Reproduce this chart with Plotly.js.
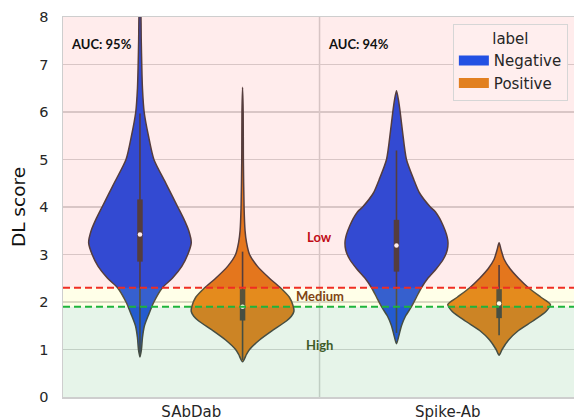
<!DOCTYPE html>
<html>
<head>
<meta charset="utf-8">
<script src="https://cdn.plot.ly/plotly-3.0.1.min.js"></script>
<style>html,body{margin:0;padding:0;background:#fff;overflow:hidden}#chart{width:574px;height:420px}</style>
</head>
<body>
<div id="chart"></div>
<script>
// ---- data ----
const categories = ['SAbDab', 'Spike-Ab'];
const labels = ['Negative', 'Positive'];
const aucTexts = ['AUC: 95%', 'AUC: 94%'];

// violin density profiles (score levels and relative half-width)
const sabdabNegY = [0.84, 1.0, 1.25, 1.5, 1.75, 2.0, 2.3, 2.5, 2.75, 3.0, 3.25, 3.5, 3.75, 4.0, 4.25, 4.5, 5.0, 5.5, 6.0, 6.5, 7.0, 7.5, 8.0, 8.4];
const sabdabNegD = [0, 1.5, 2.5, 4.5, 9, 14, 22.5, 32.5, 42, 48, 51.5, 49, 44, 38, 32, 26, 14, 8.5, 4.2, 2.5, 1.8, 1.3, 1.0, 0];
const sabdabPosY = [0.74, 0.9, 1.0, 1.2, 1.4, 1.6, 1.7, 1.8, 1.9, 2.1, 2.3, 2.5, 2.75, 3.0, 3.25, 3.5, 4.0, 5.0, 6.0, 6.52];
const sabdabPosD = [0, 4, 7, 17, 30, 44, 49, 51.5, 51, 47, 38, 27, 15, 7, 4, 2.5, 1.5, 0.8, 0.6, 0];
const spikeNegY = [1.12, 1.3, 1.5, 1.7, 1.9, 2.1, 2.3, 2.5, 2.7, 2.9, 3.1, 3.3, 3.6, 3.9, 4.0, 4.3, 4.57, 5.0, 5.6, 6.0, 6.25, 6.45];
const spikeNegD = [0, 2.5, 5, 9, 15, 20, 25, 31.5, 40, 47, 51, 51.5, 47, 39, 34, 23, 17.5, 10, 6, 3.7, 2, 0];
const spikePosY = [0.88, 1.0, 1.2, 1.4, 1.6, 1.8, 1.95, 2.1, 2.3, 2.5, 2.7, 2.9, 3.1, 3.25];
const spikePosD = [0, 3, 9.5, 19.5, 34, 47, 51.5, 42, 29.5, 19.5, 11, 5, 2, 0];

// inner box statistics, per category
const negQ1 = [2.85, 2.64];
const negMedian = [3.42, 3.19];
const negQ3 = [4.16, 3.73];
const negWhiskerLo = [0.87, 1.35];
const negWhiskerHi = [5.97, 5.19];
const posQ1 = [1.61, 1.66];
const posMedian = [1.90, 1.97];
const posQ3 = [2.27, 2.27];
const posWhiskerLo = [0.78, 1.30];
const posWhiskerHi = [3.06, 2.78];

// confidence thresholds
const thresholdLow = 2.3;
const thresholdHigh = 1.9;
const zoneNames = ['Low', 'Medium', 'High'];
const zoneLabelY = [3.37, 2.13, 1.09];

// ---- styles ----
const blue = 'rgb(35,81,227)';
const orange = 'rgb(226,128,32)';
const edge = 'rgb(72,66,66)';
const dodge = 0.2;
const halfWidth = 0.2;
const FONT = 'DejaVu Sans, sans-serif';

const profiles = [
  {cat: 0, lab: 0, y: sabdabNegY, d: sabdabNegD},
  {cat: 0, lab: 1, y: sabdabPosY, d: sabdabPosD},
  {cat: 1, lab: 0, y: spikeNegY, d: spikeNegD},
  {cat: 1, lab: 1, y: spikePosY, d: spikePosD},
];
const dmax = Math.max(...profiles.map(p => Math.max(...p.d)));

const traces = [];
profiles.forEach(p => {
  const c = p.cat + (p.lab === 0 ? -dodge : dodge);
  const xs = [], ys = [];
  for (let i = 0; i < p.y.length; i++) { xs.push(c + halfWidth * p.d[i] / dmax); ys.push(p.y[i]); }
  for (let i = p.y.length - 2; i >= 0; i--) { xs.push(c - halfWidth * p.d[i] / dmax); ys.push(p.y[i]); }
  traces.push({
    type: 'scatter', mode: 'lines', x: xs, y: ys, fill: 'toself',
    fillcolor: p.lab === 0 ? blue : orange,
    line: {color: edge, width: 1.5, shape: 'spline', smoothing: 0.7},
    showlegend: false, hoverinfo: 'skip'
  });
});

// inner boxes
[[negQ1, negMedian, negQ3, negWhiskerLo, negWhiskerHi, -dodge],
 [posQ1, posMedian, posQ3, posWhiskerLo, posWhiskerHi, dodge]].forEach(s => {
  const [q1, med, q3, lo, hi, off] = s;
  categories.forEach((cat, i) => {
    const c = i + off;
    traces.push({type: 'scatter', mode: 'lines', x: [c, c], y: [lo[i], hi[i]],
      line: {color: edge, width: 1.6}, showlegend: false, hoverinfo: 'skip'});
    traces.push({type: 'scatter', mode: 'lines', x: [c, c], y: [q1[i], q3[i]],
      line: {color: edge, width: 5.5}, showlegend: false, hoverinfo: 'skip'});
    traces.push({type: 'scatter', mode: 'markers', x: [c], y: [med[i]],
      marker: {color: 'white', size: 4.5, line: {width: 0}}, showlegend: false, hoverinfo: 'skip'});
  });
});

// legend entries
labels.forEach((lab, k) => {
  traces.push({type: 'scatter', mode: 'lines', x: [null], y: [null], name: lab,
    line: {color: k === 0 ? blue : orange, width: 12},
    showlegend: true, hoverinfo: 'skip'});
});

const shapes = [
  {type: 'line', layer: 'below', xref: 'x', yref: 'y', x0: 0.5, x1: 0.5, y0: 0, y1: 8,
   line: {color: 'rgb(212,212,212)', width: 1.5}},
  {type: 'rect', layer: 'above', xref: 'paper', yref: 'y', x0: 0, x1: 1, y0: thresholdLow, y1: 8,
   fillcolor: 'rgba(255,0,0,0.075)', line: {width: 0}},
  {type: 'rect', layer: 'above', xref: 'paper', yref: 'y', x0: 0, x1: 1, y0: thresholdHigh, y1: thresholdLow,
   fillcolor: 'rgba(255,255,0,0.09)', line: {width: 0}},
  {type: 'rect', layer: 'above', xref: 'paper', yref: 'y', x0: 0, x1: 1, y0: 0, y1: thresholdHigh,
   fillcolor: 'rgba(46,163,72,0.12)', line: {width: 0}},
  {type: 'line', layer: 'above', xref: 'paper', yref: 'y', x0: 0, x1: 1, y0: thresholdLow, y1: thresholdLow,
   line: {color: 'rgb(240,45,35)', width: 2, dash: '7px,4px'}},
  {type: 'line', layer: 'above', xref: 'paper', yref: 'y', x0: 0, x1: 1, y0: thresholdHigh, y1: thresholdHigh,
   line: {color: 'rgb(30,180,60)', width: 2, dash: '7px,4px'}},
];

const zoneColors = ['rgb(192,12,22)', 'rgb(128,68,18)', 'rgb(62,92,40)'];
const annotations = [];
aucTexts.forEach((t, i) => {
  annotations.push({xref: 'x', yref: 'y', x: i - 0.475, y: 7.43, xanchor: 'left', yanchor: 'middle',
    text: '<b>' + t + '</b>', showarrow: false, font: {family: 'Lato, sans-serif', size: 13, color: '#111'}});
});
zoneNames.forEach((z, i) => {
  annotations.push({xref: 'x', yref: 'y', x: 0.5, y: zoneLabelY[i], xanchor: 'center', yanchor: 'middle',
    text: '<b>' + z + '</b>', showarrow: false, font: {family: 'Lato, sans-serif', size: 13, color: zoneColors[i]}});
});

const layout = {
  width: 574, height: 420,
  margin: {l: 63, r: 0, t: 17, b: 23, pad: 0},
  paper_bgcolor: 'white', plot_bgcolor: 'white',
  font: {family: FONT, color: '#262626', size: 14},
  showlegend: true,
  xaxis: {
    range: [-0.5, 1.492], tickvals: [0, 1], ticktext: categories,
    showgrid: false, zeroline: false, ticks: '', ticklabelstandoff: 0,
    showline: true, mirror: true, linecolor: 'rgb(206,206,206)', linewidth: 1.5,
    tickfont: {family: FONT, size: 15, color: '#262626'}, fixedrange: true
  },
  yaxis: {
    range: [0, 8], tickvals: [0, 1, 2, 3, 4, 5, 6, 7, 8],
    showgrid: true, gridcolor: 'rgb(214,214,214)', gridwidth: 1.3, zeroline: false,
    ticks: '', ticklabelstandoff: 10,
    showline: true, linecolor: 'rgb(206,206,206)', linewidth: 1.5,
    tickfont: {family: FONT, size: 14.5, color: '#262626'},
    title: {text: 'DL score', font: {family: FONT, size: 18.5, color: '#111'}, standoff: 9}, fixedrange: true
  },
  legend: {
    x: 0.988, y: 0.982, xanchor: 'right', yanchor: 'top',
    bgcolor: 'rgb(255,238,238)', bordercolor: 'rgb(214,214,214)', borderwidth: 1,
    font: {family: FONT, size: 15, color: '#262626'},
    title: {text: 'label', side: 'top center', font: {family: FONT, size: 15, color: '#262626'}},
    traceorder: 'normal', itemwidth: 30
  },
  shapes: shapes,
  annotations: annotations
};

Plotly.newPlot('chart', traces, layout, {displayModeBar: false, staticPlot: true});
</script>
</body>
</html>
